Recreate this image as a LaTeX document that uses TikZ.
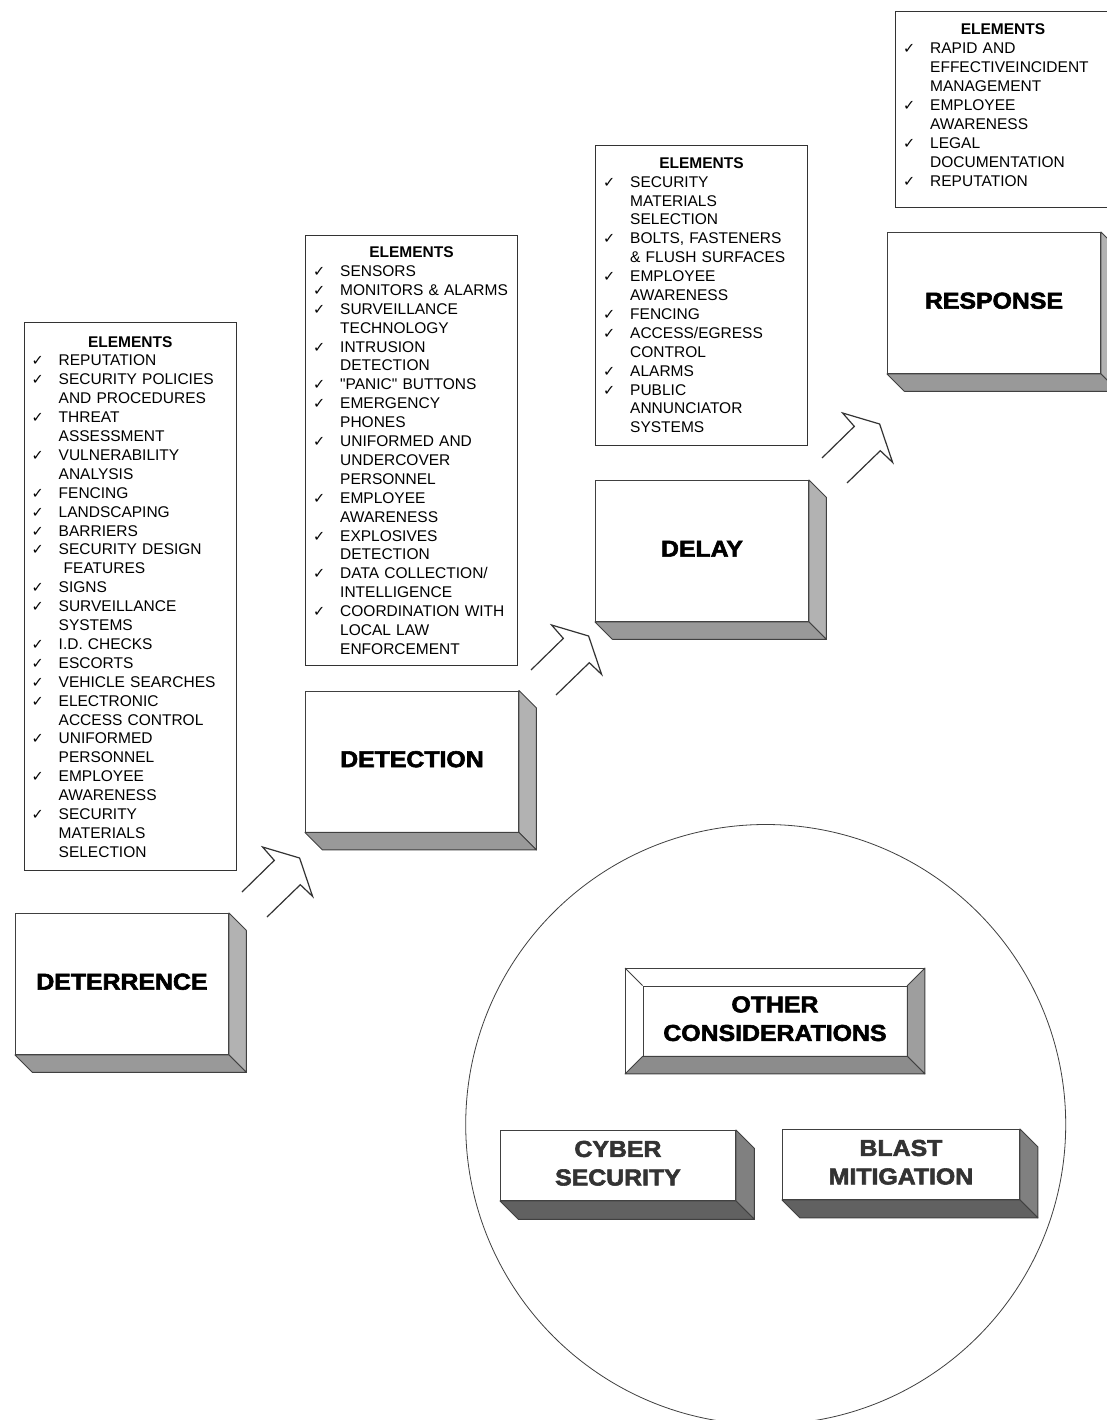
\documentclass[tikz,border=0pt]{standalone}
\usepackage{fontspec}
\usepackage{graphicx}
\setmainfont{Liberation Sans}
\newfontfamily\ckfont{DejaVu Sans}
\newfontfamily\headfam{Liberation Sans}[BoldFeatures={FakeBold=2.5}]
\usetikzlibrary{calc}
\newcommand\ck{\makebox[27pt][l]{\ckfont\fontsize{14.5}{14.5}\selectfont ✓}}
\newcommand\nd{\hspace*{27pt}}
\newcommand\hd[1]{\scalebox{1.08}[1]{\begin{tabular}{@{}c@{}}#1\end{tabular}}}
\newcommand\threed[4]{%
  \draw[#3] (#1.north east) -- ++(#2,#2) -- ($(#1.south east)+(#2,#2)$) -- (#1.south east) -- cycle;
  \draw[#4] (#1.south west) -- (#1.south east) -- ($(#1.south east)+(#2,#2)$) -- ($(#1.south west)+(#2,#2)$) -- cycle;}
\begin{document}
\begin{tikzpicture}[x=1pt,y=-1pt,
  listbox/.style={draw=black!80, line width=1pt, anchor=north west, inner sep=0pt},
  elhead/.style={anchor=base, inner sep=0pt, font=\fontsize{15.5}{18.9}\selectfont\bfseries},
  listtext/.style={anchor=base west, inner sep=0pt, align=left, text width=260pt, font=\fontsize{15.5}{18.9}\selectfont},
  headfont/.style={font=\fontsize{23}{28.5}\selectfont\headfam\bfseries},
  front/.style={draw=black!75, line width=0.9pt, fill=white, anchor=north west, inner sep=0pt, minimum width=213pt, minimum height=141pt, headfont},
  sideface/.style={fill=black!30, draw=black!75, line width=0.9pt, line join=round},
  botface/.style={fill=black!40, draw=black!75, line width=0.9pt, line join=round},
  darkside/.style={fill=black!50, draw=black!75, line width=0.9pt, line join=round},
  darkbot/.style={fill=black!62, draw=black!75, line width=0.9pt, line join=round},
  smallfront/.style={draw=black!75, line width=0.9pt, fill=white, anchor=north west, inner sep=0pt, minimum height=70pt, headfont, text=black!80},
  blockarrow/.style={draw=black!80, line width=1.2pt, line join=miter},
  bevel/.style={draw=black!75, line width=0.9pt, line join=round},
]
\useasboundingbox (0,0) rectangle (1107,1420);
\fill[white] (0,0) rectangle (1107,1420);

% ---------- circle ----------
\node[draw=black!75, line width=0.8pt, circle, minimum size=600pt, inner sep=0pt] (circ) at (765.7,1124.5) {};

% ---------- element lists ----------
\node[listbox, minimum width=212.5pt, minimum height=548pt] (deterList) at (23.5,322) {};
\node[elhead] (deterHead) at ($(deterList.north)+(0,25)$) {ELEMENTS};
\node[listtext] (deterItems) at ($(deterList.north west)+(8,43.9)$) {%
\ck REPUTATION\\
\ck SECURITY POLICIES\\
\nd AND PROCEDURES\\
\ck THREAT\\
\nd ASSESSMENT\\
\ck VULNERABILITY\\
\nd ANALYSIS\\
\ck FENCING\\
\ck LANDSCAPING\\
\ck BARRIERS\\
\ck SECURITY DESIGN\\
\nd\hspace*{5pt}FEATURES\\
\ck SIGNS\\
\ck SURVEILLANCE\\
\nd SYSTEMS\\
\ck I.D. CHECKS\\
\ck ESCORTS\\
\ck VEHICLE SEARCHES\\
\ck ELECTRONIC\\
\nd ACCESS CONTROL\\
\ck UNIFORMED\\
\nd PERSONNEL\\
\ck EMPLOYEE\\
\nd AWARENESS\\
\ck SECURITY\\
\nd MATERIALS\\
\nd SELECTION};

\node[listbox, minimum width=212pt, minimum height=430pt] (detectList) at (305,235) {};
\node[elhead] (detectHead) at ($(detectList.north)+(0,22.5)$) {ELEMENTS};
\node[listtext] (detectItems) at ($(detectList.north west)+(8,41.4)$) {%
\ck SENSORS\\
\ck MONITORS \& ALARMS\\
\ck SURVEILLANCE\\
\nd TECHNOLOGY\\
\ck INTRUSION\\
\nd DETECTION\\
\ck \textquotedbl PANIC\textquotedbl\ BUTTONS\\
\ck EMERGENCY\\
\nd PHONES\\
\ck UNIFORMED AND\\
\nd UNDERCOVER\\
\nd PERSONNEL\\
\ck EMPLOYEE\\
\nd AWARENESS\\
\ck EXPLOSIVES\\
\nd DETECTION\\
\ck DATA COLLECTION/\\
\nd INTELLIGENCE\\
\ck COORDINATION WITH\\
\nd LOCAL LAW\\
\nd ENFORCEMENT};

\node[listbox, minimum width=212pt, minimum height=300pt] (delayList) at (595,145) {};
\node[elhead] (delayHead) at ($(delayList.north)+(0,23.3)$) {ELEMENTS};
\node[listtext] (delayItems) at ($(delayList.north west)+(8,42.2)$) {%
\ck SECURITY\\
\nd MATERIALS\\
\nd SELECTION\\
\ck BOLTS, FASTENERS\\
\nd \& FLUSH SURFACES\\
\ck EMPLOYEE\\
\nd AWARENESS\\
\ck FENCING\\
\ck ACCESS/EGRESS\\
\nd CONTROL\\
\ck ALARMS\\
\ck PUBLIC\\
\nd ANNUNCIATOR\\
\nd SYSTEMS};

\node[listbox, minimum width=215pt, minimum height=196pt] (respList) at (895,11) {};
\node[elhead] (respHead) at ($(respList.north)+(0,24)$) {ELEMENTS};
\node[listtext] (respItems) at ($(respList.north west)+(8,42.9)$) {%
\ck RAPID AND\\
\nd EFFECTIVEINCIDENT\\
\nd MANAGEMENT\\
\ck EMPLOYEE\\
\nd AWARENESS\\
\ck LEGAL\\
\nd DOCUMENTATION\\
\ck REPUTATION};

% ---------- stage boxes ----------
\node[front] (deter) at (15,913) {\hd{DETERRENCE}};
\threed{deter}{17.5}{sideface}{botface}
\node[front] (detect) at (305,690.5) {\hd{DETECTION}};
\threed{detect}{17.5}{sideface}{botface}
\node[front] (delay) at (595,480) {\hd{DELAY}};
\threed{delay}{17.5}{sideface}{botface}
\node[front] (resp) at (887,232) {\hd{RESPONSE}};
\threed{resp}{17.5}{sideface}{botface}

% ---------- block arrows ----------
\coordinate (ar1) at (242,892);
\coordinate (ar2) at (531,670);
\coordinate (ar3) at (822,458);
\foreach \a in {ar1,ar2,ar3}{
  \draw[blockarrow] (\a) -- ++(32.3,-31.6) -- ++(-11.7,-13.4) -- ++(37,11) -- ++(13,38.4) -- ++(-12.3,-11.7) -- ++(-33.3,32.3);
}

% ---------- other considerations ----------
\node[draw=black!75, line width=0.9pt, anchor=north west, minimum width=299pt, minimum height=105pt, inner sep=0pt] (ocOuter) at (625,968) {};
\node[draw=black!75, line width=0.9pt, minimum width=264pt, minimum height=70pt, inner sep=0pt, headfont] (ocInner) at (ocOuter.center) {\hd{OTHER\\CONSIDERATIONS}};
\draw[bevel, fill=black!38] (ocOuter.north east) -- (ocOuter.south east) -- (ocInner.south east) -- (ocInner.north east) -- cycle;
\draw[bevel, fill=black!45] (ocOuter.south west) -- (ocOuter.south east) -- (ocInner.south east) -- (ocInner.south west) -- cycle;
\draw[bevel] (ocOuter.north west) -- (ocInner.north west);

\node[smallfront, minimum width=235pt] (cyber) at (500,1130) {\hd{CYBER\\SECURITY}};
\threed{cyber}{18.5}{darkside}{darkbot}
\node[smallfront, minimum width=237pt] (blast) at (782,1129) {\hd{BLAST\\MITIGATION}};
\threed{blast}{18}{darkside}{darkbot}
\end{tikzpicture}
\end{document}
